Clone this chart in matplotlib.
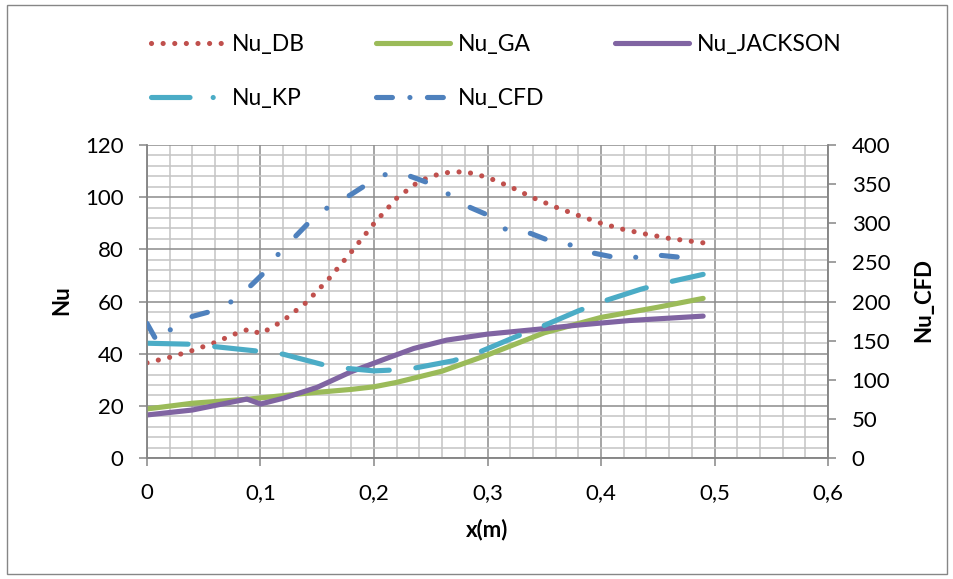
import matplotlib
matplotlib.use("Agg")
import matplotlib.pyplot as plt
from matplotlib.ticker import MultipleLocator, FuncFormatter
from matplotlib.lines import Line2D
from matplotlib.patches import Rectangle

plt.rcParams['font.family'] = ['Lato', 'DejaVu Sans']

# ---------------- data ----------------
x_db = [0, 0.02, 0.04, 0.06, 0.08, 0.09, 0.10, 0.11, 0.12, 0.14, 0.16, 0.18, 0.20, 0.22,
        0.24, 0.26, 0.28, 0.30, 0.32, 0.34, 0.36, 0.38, 0.40, 0.42, 0.44, 0.46, 0.49]
nu_db = [36.5, 38.6, 41.2, 44.3, 48.0, 49.4, 47.6, 50.1, 52.7, 59.5, 68.6, 79.0, 89.9, 99.6,
         106.2, 109.3, 109.8, 107.6, 104.0, 99.8, 96.2, 93.0, 90.0, 87.6, 85.8, 84.2, 82.5]

x_ga = [0, 0.04, 0.09, 0.14, 0.18, 0.20, 0.22, 0.26, 0.30, 0.35, 0.40, 0.45, 0.49]
nu_ga = [18.8, 21.0, 22.6, 24.8, 26.3, 27.3, 29.0, 33.3, 39.5, 48.0, 53.9, 57.8, 61.2]

x_jk = [0, 0.04, 0.088, 0.10, 0.12, 0.15, 0.18, 0.21, 0.235, 0.264, 0.30, 0.343, 0.381, 0.425, 0.49]
nu_jk = [16.5, 18.4, 22.6, 20.7, 22.9, 27.1, 33.1, 38.0, 42.0, 45.2, 47.5, 49.3, 51.0, 52.7, 54.4]

x_kp = [0, 0.04, 0.097, 0.12, 0.154, 0.175, 0.20, 0.23, 0.27, 0.29, 0.325, 0.344, 0.38, 0.40,
        0.435, 0.455, 0.49]
nu_kp = [44.0, 43.6, 41.0, 39.8, 35.9, 34.4, 33.4, 34.0, 37.3, 40.1, 46.5, 49.7, 56.4, 59.8,
         64.7, 67.0, 70.4]

x_cfd = [0, 0.01, 0.023, 0.04, 0.058, 0.076, 0.092, 0.104, 0.117, 0.132, 0.144, 0.16, 0.179,
         0.194, 0.211, 0.232, 0.249, 0.267, 0.285, 0.301, 0.317, 0.338, 0.354, 0.374, 0.393,
         0.41, 0.431, 0.452, 0.47]
nu_cfd = [172, 146, 168, 181, 188, 201, 221, 238, 263, 285, 303, 321, 336, 350, 363, 360, 351,
          336, 320, 310, 291, 287, 278, 272, 262, 257, 256.5, 259, 256.5]

labels = ['Nu_DB', 'Nu_GA', 'Nu_JACKSON', 'Nu_KP', 'Nu_CFD']
colors = ['#C0504D', '#9BBB59', '#8064A2', '#4BACC6', '#4F81BD']

# ---------------- figure ----------------
W, H = 954, 579
fig = plt.figure(figsize=(W / 100, H / 100), dpi=100)
fig.patches.append(Rectangle((7 / W, 5 / H), 940 / W, 569 / H, transform=fig.transFigure,
                             fill=False, edgecolor='#868686', lw=1.0))

L, R, T, B = 147, 828, 145, 458
ax = fig.add_axes([L / W, 1 - B / H, (R - L) / W, (B - T) / H])
ax2 = ax.twinx()

lw = 3.7
ax.plot(x_db, nu_db, color=colors[0], lw=lw, linestyle=(0, (0.01, 2.25)),
        dash_capstyle='round', zorder=3)
ax.plot(x_ga, nu_ga, color=colors[1], lw=lw, solid_capstyle='round', zorder=3)
ax.plot(x_jk, nu_jk, color=colors[2], lw=lw, solid_capstyle='round', zorder=3)
ax.plot(x_kp, nu_kp, color=colors[3], lw=lw, linestyle=(0, (8.0, 5.2)),
        dash_capstyle='round', zorder=3)
ax2.plot(x_cfd, nu_cfd, color=colors[4], lw=lw, linestyle=(0, (3.1, 5.0, 0.01, 5.0)),
         dash_capstyle='round', zorder=3)

ax.set_xlim(0, 0.6)
ax.set_ylim(0, 120)
ax2.set_ylim(0, 400)
ax.xaxis.set_major_locator(MultipleLocator(0.1))
ax.xaxis.set_minor_locator(MultipleLocator(0.02))
ax.yaxis.set_major_locator(MultipleLocator(20))
ax.yaxis.set_minor_locator(MultipleLocator(4))
ax2.yaxis.set_major_locator(MultipleLocator(50))

def comma(v, p):
    if abs(v) < 1e-9:
        return '0'
    return f'{v:.1f}'.replace('.', ',')
ax.xaxis.set_major_formatter(FuncFormatter(comma))

ax.grid(which='major', color='#8c8c8c', lw=1.1)
ax.grid(which='minor', color='#c4c4c4', lw=1.1)
ax.set_axisbelow(True)

gc = '#868686'
for a in (ax, ax2):
    for s in a.spines.values():
        s.set_color(gc)
        s.set_linewidth(1.1)
    a.tick_params(which='major', direction='out', length=6, width=1.1, color=gc,
                  labelsize=16, pad=11, labelcolor='black')
    a.tick_params(which='minor', length=0)
ax.tick_params(axis='x', pad=12)
ax.spines['top'].set_visible(False)
ax2.spines['top'].set_visible(False)

ax.set_xlabel('x(m)', fontsize=16, fontweight='bold')
ax.set_ylabel('Nu', fontsize=16, fontweight='bold')
ax2.set_ylabel('Nu_CFD', fontsize=16, fontweight='bold')
ax.xaxis.set_label_coords((487 - L) / (R - L), (B - 519) / (B - T))
ax.yaxis.set_label_coords((72 - L) / (R - L), (B - 300) / (B - T))
ax2.yaxis.set_label_coords((913 - L) / (R - L), (B - 300) / (B - T))

# legend proxies
h_db = Line2D([], [], color=colors[0], lw=lw, linestyle=(0, (0.01, 2.25)), dash_capstyle='round')
h_ga = Line2D([], [], color=colors[1], lw=lw, solid_capstyle='round')
h_jk = Line2D([], [], color=colors[2], lw=lw, solid_capstyle='round')
h_kp = Line2D([], [], color=colors[3], lw=lw, linestyle=(0, (7.5, 4.5, 0.01, 2.5)),
              dash_capstyle='round')
h_cfd = Line2D([], [], color=colors[4], lw=lw, linestyle=(0, (3.1, 3.4, 0.01, 3.4)),
               dash_capstyle='round')
fig.legend([h_db, h_kp, h_ga, h_cfd, h_jk],
           [labels[0], labels[3], labels[1], labels[4], labels[2]],
           ncol=3, loc='upper left', bbox_to_anchor=(151 / W, 1 - 34 / H),
           frameon=False, fontsize=16.5, handlelength=3.2, handletextpad=0.35,
           columnspacing=3.1, labelspacing=1.45, borderaxespad=0, borderpad=0)

fig.savefig('out.png', dpi=100)
